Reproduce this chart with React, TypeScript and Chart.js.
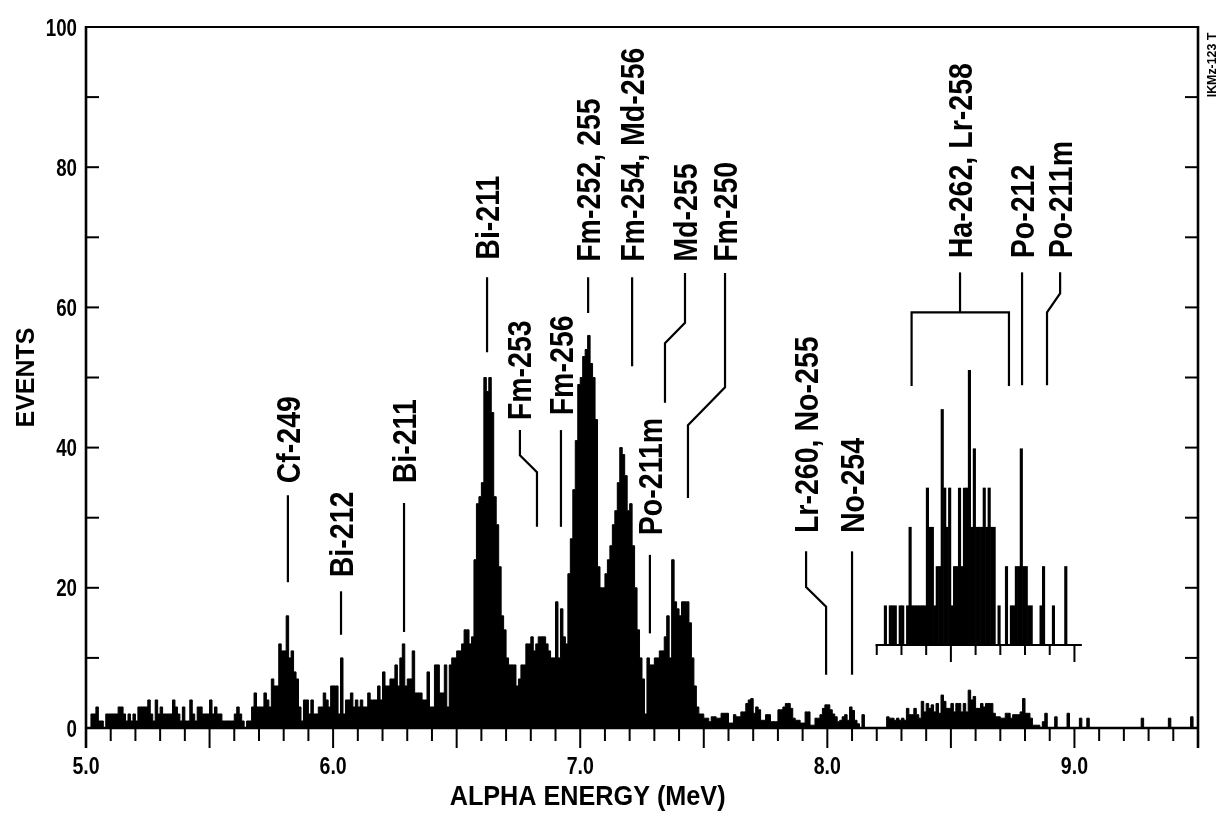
import React, { useEffect, useRef } from "react";
import { Chart, registerables } from "chart.js";

Chart.register(...registerables);

// ---------- data ----------
// main spectrum: events per 0.01 MeV channel, starting at 5.00 MeV
const spectrumStart = 5.0;
const channelWidth = 0.01;
const spectrum_5_0 = [0,0,2,2,3,1,1,0,2,2, 2,2,2,3,3,2,1,2,1,2, 1,3,3,3,3,4,2,1,4,2, 3,2,2,2,2,4,3,2,1,3, 1,1,4,2,1,3,3,2,2,2];
const spectrum_5_5 = [4,2,3,2,2,1,1,1,1,1, 2,3,2,1,0,1,1,3,5,3, 3,3,5,4,3,7,6,6,12,11, 11,16,10,11,8,7,3,1,4,4, 2,4,2,2,3,3,5,4,3,6];
const spectrum_6_0 = [6,6,2,10,2,4,4,5,3,4, 3,4,3,3,5,4,4,4,6,4, 8,6,6,7,7,9,6,10,12,6, 7,7,11,5,5,5,4,4,8,3, 3,9,9,5,5,9,3,9,10,10];
const spectrum_6_5 = [11,11,12,14,14,12,13,24,32,33, 35,50,48,50,45,33,29,23,16,14, 10,9,9,9,6,7,9,9,12,12, 13,11,12,13,13,13,12,11,10,10, 18,10,17,13,12,22,27,34,41,49];
const spectrum_7_0 = [50,53,54,56,52,50,44,23,20,20, 22,24,26,29,31,35,40,39,36,31, 32,26,20,14,10,7,2,10,9,9, 10,10,11,11,13,16,10,24,18,17, 16,18,18,18,15,10,6,3,2,2];
const spectrum_7_5 = [1.4,1.4,0.9,1.6,1.6,1.4,1.4,2.1,2.1,2.1, 0.7,0.7,1.9,1.6,1.6,2.3,2.3,3.5,4,4.2, 2.1,3,2.6,1.1,1.1,1.9,1.9,0.9,0.9,0.9, 2.6,2.6,3,3.5,3.5,2.8,1.4,1.1,1.1,0.7, 0.7,2.3,2.3,0.4,0.4,1.4,1.4,1.9,2.8,3.3];
const spectrum_8_0 = [3.3,2.6,2,1.6,0.9,1.1,1.6,1.9,1.1,3, 2.5,1.1,0.6,0,1.9,0,0,0,0,0, 0,0,0,0,1.6,1.4,1.4,1.1,1.4,1.1, 1.4,1.1,2.8,1.9,1.9,2.8,1.9,1.4,3.8,2.3, 3.5,2.8,3.3,2.3,3.5,2.1,4.7,3.8,2.8,2.8];
const spectrum_8_5 = [3.5,2.3,3.5,3.5,2.3,3.5,2.3,5.4,4,4.5, 2.8,2.8,3.5,3,3.5,3.5,3.5,2.1,1.6,1.6, 1.4,1.4,2.1,2.1,1.4,1.9,1.9,1.9,2.3,4.2, 2.1,2.1,1.4,0.4,0.4,0.4,0,0.9,2.1,0, 0,0,1.6,0,0,0,0,2.1,0,0];
const spectrum_9_0 = [0,0,1.4,0,0,1.4,0,0,0,0, 0,0,0,0,0,0,0,0,0,0, 0,0,0,0,0,0,0,1.4,0,0, 0,0,0,0,0,0,0,0,1.4,0, 0,0,0,0,0,0,0,1.6,0,0];

// inset: counts per 0.01 MeV channel from 8.20 MeV
const insetStart = 8.2;
const insetCounts = [
  0,0,0,1,0,1,1,1,0,1,
  1,0,1,3,1,1,1,1,1,1,
  4,3,3,1,2,2,6,4,3,4,
  1,2,2,4,2,4,4,7,3,5,
  3,3,3,4,3,4,3,3,0,1,
  0,0,2,0,1,1,2,2,5,2,
  2,1,1,0,0,0,1,2,0,0,
  0,1,0,0,0,0,2,0,0,0,
];
const insetTickValues = [8.2, 8.3, 8.4, 8.5, 8.6, 8.7, 8.8, 8.9, 9.0];

const xTickLabels = ["5.0", "6.0", "7.0", "8.0", "9.0"];
const yTickLabels = ["0", "20", "40", "60", "80", "100"];

// peak labels: text, start of text (MeV, events), leader polylines (MeV, events)
const peakLabels = [
  "Cf-249", "Bi-212", "Bi-211", "Bi-211", "Fm-253", "Fm-256", "Fm-252, 255",
  "Fm-254, Md-256", "Md-255", "Fm-250", "Po-211m", "Lr-260, No-255", "No-254",
  "Ha-262, Lr-258", "Po-212", "Po-211m",
];
const peakLabelStarts: [number, number][] = [
  [5.817, 34.9], [6.032, 21.5], [6.287, 34.9], [6.623, 66.8], [6.752, 43.9], [6.922, 44.6], [7.032, 66.5],
  [7.21, 66.5], [7.424, 66.5], [7.586, 66.5], [7.282, 27.5], [7.914, 27.8], [8.1, 27.8],
  [8.537, 67.0], [8.788, 67.0], [8.942, 67.0],
];
const leaderLines: [number, number][][] = [
  [[5.817, 20.8], [5.817, 33.2]],
  [[6.032, 13.3], [6.032, 19.5]],
  [[6.287, 13.7], [6.287, 32.1]],
  [[6.623, 53.6], [6.623, 64.3]],
  [[6.756, 42.5], [6.756, 38.9], [6.825, 36.5], [6.825, 28.7]],
  [[6.922, 42.5], [6.922, 28.7]],
  [[7.032, 64.3], [7.032, 59.2]],
  [[7.21, 64.3], [7.21, 51.6]],
  [[7.424, 64.9], [7.424, 57.8], [7.343, 54.9], [7.343, 46.4]],
  [[7.586, 64.9], [7.586, 48.6], [7.436, 43.2], [7.436, 32.8]],
  [[7.282, 24.7], [7.282, 13.5]],
  [[7.914, 25.2], [7.914, 20.1], [7.995, 17.3], [7.995, 7.6]],
  [[8.1, 25.2], [8.1, 7.6]],
  [[8.537, 65.0], [8.537, 59.3]],
  [[8.341, 48.8], [8.341, 59.3], [8.735, 59.3], [8.735, 48.8]],
  [[8.788, 65.0], [8.788, 48.9]],
  [[8.942, 65.0], [8.942, 62.0], [8.889, 59.3], [8.889, 48.9]],
];

// inset placement on the event scale
const insetBaseEvents = 11.84;
const insetEventsPerCount = 5.6;

// ---------- drawing helpers ----------
const FONT = '"Liberation Sans", Arial, "DejaVu Sans", sans-serif';

function drawText(
  ctx: CanvasRenderingContext2D,
  text: string,
  x: number,
  y: number,
  size: number,
  squeeze: number,
  rotated: boolean,
  align: CanvasTextAlign
) {
  ctx.save();
  ctx.font = `bold ${size}px ${FONT}`;
  ctx.textBaseline = "alphabetic";
  ctx.textAlign = align;
  ctx.translate(x, y);
  if (rotated) ctx.rotate(-Math.PI / 2);
  ctx.scale(squeeze, 1);
  ctx.fillText(text, 0, (size * 0.716) / 2);
  ctx.restore();
}

function seg(ctx: CanvasRenderingContext2D, x1: number, y1: number, x2: number, y2: number) {
  ctx.beginPath();
  ctx.moveTo(x1, y1);
  ctx.lineTo(x2, y2);
  ctx.stroke();
}

const overlayPlugin = {
  id: "overlay",
  afterDatasetsDraw(chart: any) {
    const ctx: CanvasRenderingContext2D = chart.ctx;
    const xs = chart.scales.x;
    const ys = chart.scales.y;
    const yi = chart.scales.y2;
    const { left: L, right: R, top: T, bottom: B } = chart.chartArea;
    ctx.save();
    ctx.strokeStyle = "#000";
    ctx.fillStyle = "#000";
    ctx.lineCap = "butt";

    // frame
    ctx.lineWidth = 2;
    seg(ctx, L, T, R, T);
    ctx.lineWidth = 2.6;
    seg(ctx, L, T - 1, L, B + 20);
    seg(ctx, R, T - 1, R, B + 20);
    seg(ctx, L, B, R, B);

    // x ticks (0.1 minor, 0.5 major)
    ctx.lineWidth = 2;
    for (let i = 51; i < 95; i++) {
      const px = xs.getPixelForValue(i / 10);
      seg(ctx, px, B, px, B + (i % 5 === 0 ? 20 : 13));
    }
    // y ticks inward, both sides
    for (let v = 10; v < 100; v += 10) {
      const py = ys.getPixelForValue(v);
      seg(ctx, L, py, L + 13, py);
      seg(ctx, R, py, R - 13, py);
    }
    // tick labels
    xTickLabels.forEach((t) => {
      drawText(ctx, t, xs.getPixelForValue(parseFloat(t)), B + 38, 23, 0.85, false, "center");
    });
    yTickLabels.forEach((t) => {
      drawText(ctx, t, L - 9, ys.getPixelForValue(parseFloat(t)), 24, 0.78, false, "right");
    });
    // axis titles
    drawText(ctx, "ALPHA ENERGY (MeV)", xs.getPixelForValue(7.03), B + 67, 28, 0.9, false, "center");
    drawText(ctx, "EVENTS", L - 61, ys.getPixelForValue(50), 25, 1.0, true, "center");
    drawText(ctx, "IKMz-123 T", R + 13, T + 38, 13, 0.95, true, "center");

    // inset axis
    const ib = yi.getPixelForValue(0);
    ctx.lineWidth = 2.2;
    seg(ctx, xs.getPixelForValue(8.195), ib, xs.getPixelForValue(9.03), ib);
    ctx.lineWidth = 2;
    insetTickValues.forEach((v) => {
      const px = xs.getPixelForValue(v);
      const major = Math.abs(v - 8.5) < 1e-6 || Math.abs(v - 9.0) < 1e-6;
      seg(ctx, px, ib, px, ib + (major ? 17 : 10));
    });

    // leader lines
    ctx.lineWidth = 2.2;
    ctx.lineJoin = "miter";
    leaderLines.forEach((pts) => {
      ctx.beginPath();
      pts.forEach(([mx, ev], j) => {
        const px = xs.getPixelForValue(mx);
        const py = ys.getPixelForValue(ev);
        if (j === 0) ctx.moveTo(px, py);
        else ctx.lineTo(px, py);
      });
      ctx.stroke();
    });
    // peak labels
    peakLabels.forEach((t, i) => {
      const [mx, ev] = peakLabelStarts[i];
      drawText(ctx, t, xs.getPixelForValue(mx), ys.getPixelForValue(ev), 34, 0.84, true, "left");
    });
    ctx.restore();
  },
};

export default function App() {
  const canvasRef = useRef<HTMLCanvasElement | null>(null);

  useEffect(() => {
    if (!canvasRef.current) return;
    const spectrum = [
      ...spectrum_5_0, ...spectrum_5_5, ...spectrum_6_0, ...spectrum_6_5, ...spectrum_7_0,
      ...spectrum_7_5, ...spectrum_8_0, ...spectrum_8_5, ...spectrum_9_0,
    ];
    const mainPoints = spectrum.map((v, k) => ({ x: spectrumStart + k * channelWidth, y: v }));
    mainPoints.push({ x: spectrumStart + spectrum.length * channelWidth, y: spectrum[spectrum.length - 1] });
    const insetPoints = insetCounts.map((c, i) => ({ x: insetStart + (i + 0.5) * channelWidth, y: c }));

    const chart = new Chart(canvasRef.current, {
      type: "line",
      data: {
        datasets: [
          {
            type: "line",
            data: mainPoints,
            stepped: true,
            fill: "origin",
            backgroundColor: "#000",
            borderColor: "#000",
            borderWidth: 1,
            pointRadius: 0,
            tension: 0,
            yAxisID: "y",
          } as any,
          {
            type: "bar",
            data: insetPoints,
            backgroundColor: "#000",
            borderWidth: 0,
            barPercentage: 1,
            categoryPercentage: 1,
            grouped: false,
            yAxisID: "y2",
          } as any,
        ],
      },
      options: {
        animation: false,
        responsive: false,
        devicePixelRatio: 1,
        events: [],
        layout: { padding: { left: 86, right: 22, top: 27, bottom: 85 } },
        plugins: { legend: { display: false }, tooltip: { enabled: false }, title: { display: false } },
        scales: {
          x: { type: "linear", min: 5.0, max: 9.5, offset: false, display: false },
          y: { type: "linear", min: 0, max: 100, display: false },
          y2: {
            type: "linear",
            min: -insetBaseEvents / insetEventsPerCount,
            max: (100 - insetBaseEvents) / insetEventsPerCount,
            display: false,
          },
        },
      } as any,
      plugins: [overlayPlugin],
    });
    return () => chart.destroy();
  }, []);

  return (
    <div style={{ position: "fixed", left: 0, top: 0, width: 1220, height: 813, background: "#fff" }}>
      <canvas ref={canvasRef} width={1220} height={813} style={{ display: "block" }} />
    </div>
  );
}
